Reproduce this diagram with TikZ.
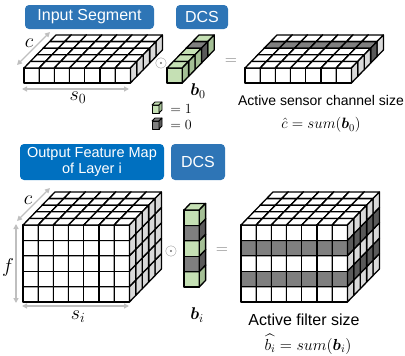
\RequirePackage{fix-cm}
\documentclass[tikz,border=0pt]{standalone}
\usepackage{amsmath}
\usepackage{fontspec}
\setmainfont{Liberation Sans}
\usetikzlibrary{arrows.meta}
\definecolor{boxblue}{HTML}{2E75B6}
\definecolor{boxblueb}{HTML}{0070C0}
\definecolor{cgreen}{HTML}{C5E0B4}
\definecolor{cgreenside}{HTML}{A4BF95}
\definecolor{cdark}{HTML}{7F7F7F}
\definecolor{cdarkside}{HTML}{595959}
\definecolor{cside}{HTML}{D9D9D9}
\definecolor{dimgray}{HTML}{BFBFBF}
\def\cubW{15.2}\def\cubH{15}\def\cubDX{6.4}\def\cubDY{-6.6}
\newcommand{\drawcube}[5]{%
 \filldraw[cubeline,fill=#3] (#1,#2) rectangle ++(\cubW,-\cubH);
 \filldraw[cubeline,fill=#4] (#1,#2-\cubH) -- ++(\cubDX,\cubDY) -- ++(\cubW,0) -- ++(-\cubDX,-\cubDY) -- cycle;
 \filldraw[cubeline,fill=#5] (#1+\cubW,#2) -- ++(\cubDX,\cubDY) -- ++(0,-\cubH) -- ++(-\cubDX,-\cubDY) -- cycle;}
\begin{document}
\begin{tikzpicture}[x=1pt,y=-1pt,
  cubeline/.style={draw=black,line width=1.3pt,line join=round},
  titlebox/.style={fill=#1,rounded corners=4pt,text=white,inner sep=0pt,align=center},
  dimarrow/.style={draw=dimgray,line width=1.2pt,{Triangle[length=5pt,width=5pt]}-{Triangle[length=5pt,width=5pt]}},
  lbl/.style={inner sep=0pt,font=\fontsize{20}{22}\selectfont},
  opsym/.style={inner sep=0pt,text=gray,font=\fontsize{16}{18}\selectfont}]
\useasboundingbox (0,0) rectangle (405,356);
% ---------- title boxes
\node[titlebox=boxblue,minimum width=129,minimum height=24,font=\fontsize{16}{18}\selectfont] (t1) at (89.5,17) {Input Segment};
\node[titlebox=boxblue,minimum width=52,minimum height=24,font=\fontsize{16}{18}\selectfont] (t2) at (202,17) {DCS};
\node[titlebox=boxblueb,minimum width=144,minimum height=36,font=\fontsize{14.5}{16}\selectfont] (t3) at (92,162) {Output Feature Map\\of Layer i};
\node[titlebox=boxblue,minimum width=54,minimum height=36,font=\fontsize{16}{18}\selectfont] (t4) at (198,162) {DCS};
% ---------- top input block
\def\cubH{15}
\foreach \k in {4,3,2,1,0}{\foreach \c in {0,...,6}{
  \pgfmathsetmacro\xx{24+\c*\cubW+\k*\cubDX}\pgfmathsetmacro\yy{83+\k*\cubDY}
  \drawcube{\xx}{\yy}{white}{white}{cside}}}
% ---------- top vector b0
\foreach \k in {4,3,2,1,0}{
  \pgfmathsetmacro\xx{167+\k*\cubDX}\pgfmathsetmacro\yy{83+\k*\cubDY}
  \ifnum\k=3 \drawcube{\xx}{\yy}{cdark}{cdark}{cdarkside}\else \drawcube{\xx}{\yy}{cgreen}{cgreen}{cgreenside}\fi}
% ---------- top output block
\foreach \k in {4,3,2,1,0}{\foreach \c in {0,...,6}{
  \pgfmathsetmacro\xx{245+\c*\cubW+\k*\cubDX}\pgfmathsetmacro\yy{83+\k*\cubDY}
  \ifnum\k=3 \drawcube{\xx}{\yy}{cdark}{cdark}{cdarkside}\else \drawcube{\xx}{\yy}{white}{white}{cside}\fi}}
% ---------- bottom blocks
\def\cubH{15.4}
\foreach \k in {4,3,2,1,0}{\foreach \r in {0,...,4}{\foreach \c in {0,...,6}{
  \pgfmathsetmacro\xx{23+\c*\cubW+\k*\cubDX}\pgfmathsetmacro\yy{302-\r*\cubH+\k*\cubDY}
  \drawcube{\xx}{\yy}{white}{white}{cside}}}}
\foreach \r in {0,...,4}{
  \pgfmathsetmacro\yy{287-\r*\cubH}
  \ifodd\r \drawcube{184}{\yy}{cdark}{cdark}{cdarkside}\else \drawcube{184}{\yy}{cgreen}{cgreen}{cgreenside}\fi}
\foreach \k in {4,3,2,1,0}{\foreach \r in {0,...,4}{\foreach \c in {0,...,6}{
  \pgfmathsetmacro\xx{241+\c*\cubW+\k*\cubDX}\pgfmathsetmacro\yy{302-\r*\cubH+\k*\cubDY}
  \ifodd\r \drawcube{\xx}{\yy}{cdark}{cdark}{cdarkside}\else \drawcube{\xx}{\yy}{white}{white}{cside}\fi}}}
% ---------- legend icons
\begin{scope}[cubeline/.style={draw=black,line width=0.8pt,line join=round}]
\def\cubW{7}\def\cubH{8}\def\cubDX{3}\def\cubDY{-3}
\drawcube{152}{113}{cgreen}{cgreen}{cgreenside}
\drawcube{152}{129}{cdark}{cdark}{cdarkside}
\end{scope}
\node[inner sep=0pt,font=\fontsize{14}{16}\selectfont] (one) at (181,109) {$=1$};
\node[inner sep=0pt,font=\fontsize{14}{16}\selectfont] (zero) at (181,125) {$=0$};
% ---------- operators
\node[opsym] (op1) at (161,63) {$\odot$};
\node[opsym] (eq1) at (231,62) {$=$};
\node[opsym] (op2) at (171,251) {$\odot$};
\node[opsym] (eq2) at (222,251) {$=$};
% ---------- dimension arrows
\coordinate (c1a) at (17,65); \coordinate (c1b) at (50,32);
\draw[dimarrow] (c1a) -- (c1b);
\coordinate (s0a) at (22,89); \coordinate (s0b) at (129,89);
\draw[dimarrow] (s0a) -- (s0b);
\coordinate (c2a) at (17,221); \coordinate (c2b) at (50,188);
\draw[dimarrow] (c2a) -- (c2b);
\coordinate (fa) at (16,224); \coordinate (fb) at (16,303);
\draw[dimarrow] (fa) -- (fb);
\coordinate (sia) at (22,306); \coordinate (sib) at (129,306);
\draw[dimarrow] (sia) -- (sib);
% ---------- labels
\node[lbl] (lc1) at (29,43) {$c$};
\node[lbl] (ls0) at (78,98) {$s_0$};
\node[lbl,font=\fontsize{17}{19}\selectfont] (lb0) at (198,91) {$\boldsymbol{b}_0$};
\node[lbl] (lc2) at (28,200) {$c$};
\node[lbl] (lf) at (8,267) {$f$};
\node[lbl] (lsi) at (78,317) {$s_i$};
\node[lbl,font=\fontsize{17}{19}\selectfont] (lbi) at (197,315) {$\boldsymbol{b}_i$};
\node[inner sep=0pt,font=\fontsize{14}{16}\selectfont] (act1) at (321,100) {Active sensor channel size};
\node[inner sep=0pt,font=\fontsize{15}{17}\selectfont] (sum1) at (321,125) {$\hat{c} = sum(\boldsymbol{b}_0)$};
\node[inner sep=0pt,font=\fontsize{16}{18}\selectfont] (act2) at (304,320) {Active filter size};
\node[inner sep=0pt,font=\fontsize{16}{18}\selectfont] (sum2) at (308,344) {$\widehat{b_i} = sum(\boldsymbol{b}_i)$};
\end{tikzpicture}
\end{document}
